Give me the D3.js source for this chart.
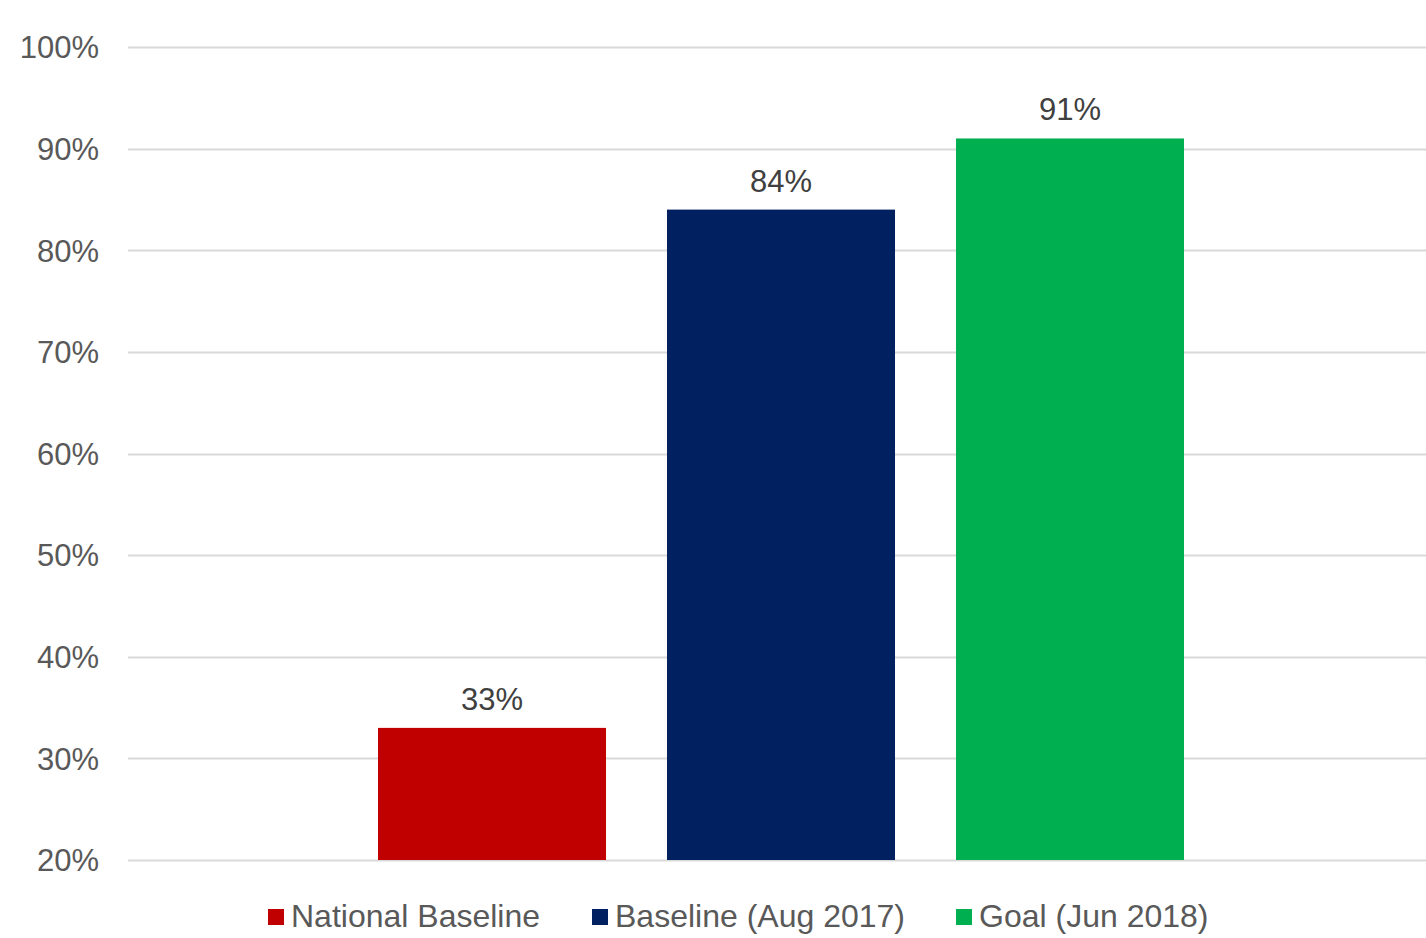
<!DOCTYPE html>
<html><head><meta charset="utf-8">
<script src="https://cdn.jsdelivr.net/npm/d3@7"></script>
<style>body{margin:0;background:#fff}svg{display:block}text{font-family:"Liberation Sans",Arial,sans-serif}</style>
</head><body>
<svg id="c" width="1426" height="938"></svg>
<script>
const series = ["National Baseline", "Baseline (Aug 2017)", "Goal (Jun 2018)"];
const values = [33, 84, 91];
const colors = ["#c00000", "#002060", "#00b050"];
const yTicks = [20, 30, 40, 50, 60, 70, 80, 90, 100];

const svg = d3.select("#c");
const plotL = 128, plotR = 1434, yTop = 47, yBot = 860;
const y = d3.scaleLinear().domain([20, 100]).range([yBot, yTop]);
const x = d3.scaleBand().domain(series).range([378, 1184]).paddingInner(0.211).paddingOuter(0);

// gridlines
svg.append("g").selectAll("line").data(yTicks).join("line")
  .attr("x1", plotL).attr("x2", plotR)
  .attr("y1", d => Math.round(y(d)) + 0.5).attr("y2", d => Math.round(y(d)) + 0.5)
  .attr("stroke", "#d9d9d9").attr("stroke-width", 2);

// y axis labels
const yAxis = d3.axisLeft(y).tickValues(yTicks).tickSize(0).tickPadding(0).tickFormat(d => d + "%");
const ga = svg.append("g").attr("transform", `translate(99,0)`).call(yAxis);
ga.select(".domain").remove();
ga.selectAll("text").attr("font-size", 31).attr("fill", "#595959").attr("font-family", "Liberation Sans, Arial, sans-serif").attr("dy", "0.35em");

// bars
svg.append("g").selectAll("rect").data(values).join("rect")
  .attr("x", (d, i) => x(series[i])).attr("width", x.bandwidth())
  .attr("y", d => y(d)).attr("height", d => y(20) - y(d))
  .attr("fill", (d, i) => colors[i]);

// data labels
svg.append("g").selectAll("text").data(values).join("text")
  .attr("x", (d, i) => x(series[i]) + x.bandwidth() / 2)
  .attr("y", d => y(d) - 18)
  .attr("text-anchor", "middle").attr("font-size", 31).attr("fill", "#404040")
  .text(d => d + "%");

// legend
const legX = [268, 592, 956];
const lg = svg.append("g").selectAll("g").data(series).join("g")
  .attr("transform", (d, i) => `translate(${legX[i]},909)`);
lg.append("rect").attr("width", 16).attr("height", 16).attr("fill", (d, i) => colors[i]);
lg.append("text").attr("x", 23).attr("y", 18).attr("font-size", 32).attr("fill", "#595959").text(d => d);
</script>
</body></html>
